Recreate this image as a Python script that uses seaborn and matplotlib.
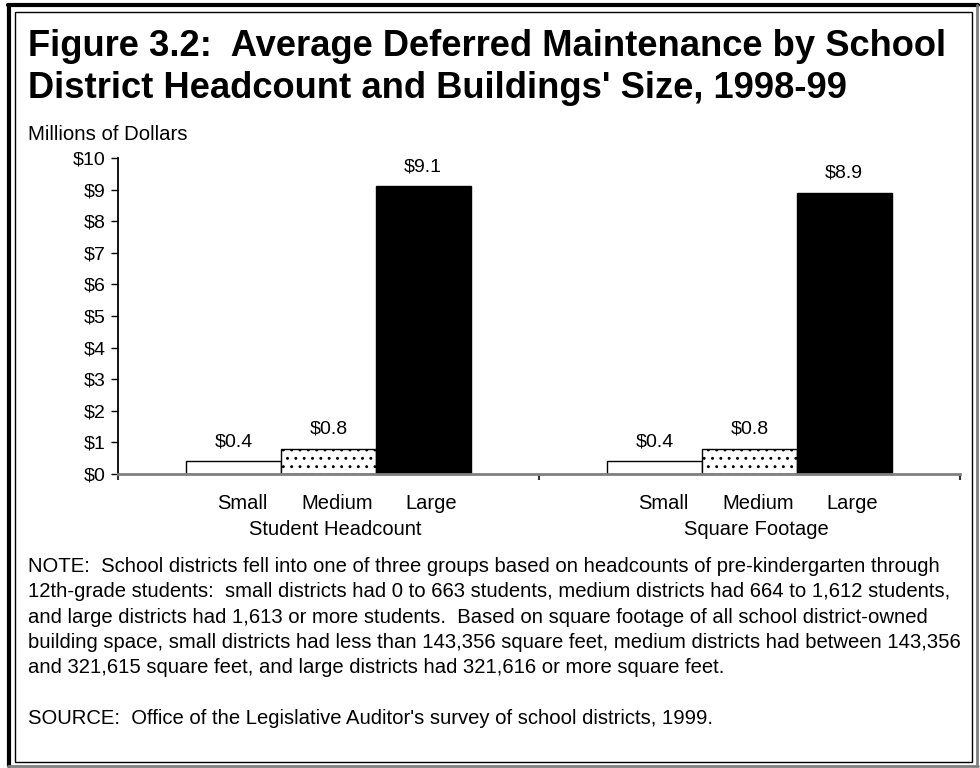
import pandas as pd
import matplotlib
matplotlib.use('Agg')
import matplotlib.pyplot as plt
import seaborn as sns
from matplotlib.patches import Rectangle
from matplotlib.lines import Line2D
from matplotlib.ticker import FuncFormatter, FixedLocator

# data
groups = ['Student Headcount', 'Square Footage']
sizes = ['Small', 'Medium', 'Large']
headcount_vals = [0.4, 0.8, 9.1]
footage_vals = [0.4, 0.8, 8.9]

df = pd.DataFrame({
    'group': [groups[0]] * 3 + [groups[1]] * 3,
    'size': sizes * 2,
    'value': headcount_vals + footage_vals,
})

sns.set_style('white')
plt.rcParams['font.family'] = ['Liberation Sans', 'DejaVu Sans']
plt.rcParams['hatch.linewidth'] = 0.9
plt.rcParams['text.color'] = 'black'
plt.rcParams['xtick.color'] = 'black'
plt.rcParams['ytick.color'] = 'black'
plt.rcParams['axes.labelcolor'] = 'black'

W, H = 980, 768
fig = plt.figure(figsize=(W / 100, H / 100), dpi=100)
ax = fig.add_axes([118 / W, 1 - 474 / H, (960 - 118) / W, (474 - 158) / H])

sns.barplot(data=df, x='group', y='value', hue='size', order=groups,
            hue_order=sizes, palette=['white', 'white', 'black'],
            edgecolor='black', linewidth=1, width=0.675, saturation=1,
            legend=False, ax=ax)

# dotted fill for medium bars
for p in ax.containers[1]:
    p.set_hatch('..')

ax.set_xlim(-0.5, 1.5)
ax.set_ylim(0, 10)
ax.set_yticks(range(0, 11))
ax.yaxis.set_major_formatter(FuncFormatter(lambda v, pos: f'${v:.0f}'))
ax.tick_params(axis='y', length=5, width=1, color='black', labelsize=14,
               pad=4, left=True, direction='out')
ax.set_xlabel('')
ax.set_ylabel('')
ax.set_xticks([])
ax.xaxis.set_minor_locator(FixedLocator([-0.5, 0.5, 1.5]))
ax.tick_params(axis='x', which='minor', length=4, width=1.5, color='#333333',
               bottom=True, direction='out')

for s in ['top', 'right']:
    ax.spines[s].set_visible(False)
ax.spines['left'].set_color('black')
ax.spines['left'].set_linewidth(1.3)
ax.spines['bottom'].set_color('#808080')
ax.spines['bottom'].set_linewidth(2)

# value labels
for c in ax.containers:
    ax.bar_label(c, labels=[f'${v:.1f}' for v in c.datavalues],
                 padding=8, fontsize=14)

# category labels under each bar, group labels under those
for c, name in zip(ax.containers, sizes):
    for p in c:
        ax.annotate(name, xy=(p.get_x() + p.get_width() / 2, 0),
                    xycoords=('data', 'axes fraction'), xytext=(6, -21),
                    textcoords='offset points', ha='center', va='center',
                    fontsize=14.5)
for i, g in enumerate(groups):
    ax.annotate(g, xy=(i, 0), xycoords=('data', 'axes fraction'),
                xytext=(5, -40), textcoords='offset points',
                ha='center', va='center', fontsize=14.5)

# titles and notes
fig.text(28 / W, 1 - 29 / H,
         "Figure 3.2:  Average Deferred Maintenance by School\n"
         "District Headcount and Buildings' Size, 1998-99",
         ha='left', va='top', fontsize=26.2, fontweight='bold', linespacing=1.25)
fig.text(28 / W, 1 - 135 / H, 'Millions of Dollars', ha='left', va='center',
         fontsize=14.7)

note = ("NOTE:  School districts fell into one of three groups based on headcounts of pre-kindergarten through\n"
        "12th-grade students:  small districts had 0 to 663 students, medium districts had 664 to 1,612 students,\n"
        "and large districts had 1,613 or more students.  Based on square footage of all school district-owned\n"
        "building space, small districts had less than 143,356 square feet, medium districts had between 143,356\n"
        "and 321,615 square feet, and large districts had 321,616 or more square feet.\n"
        "\n"
        "SOURCE:  Office of the Legislative Auditor's survey of school districts, 1999.")
fig.text(28 / W, 1 - 557 / H, note, ha='left', va='top', fontsize=14.6,
         linespacing=1.42)

# frame
fig.add_artist(Rectangle((15 / W, 1 - 762 / H), (972 - 15) / W, (762 - 12) / H,
                         transform=fig.transFigure, fill=False,
                         edgecolor='black', linewidth=1))
fig.add_artist(Line2D([9 / W, 9 / W], [1 - 766 / H, 1 - 5 / H],
                      transform=fig.transFigure, color='black', linewidth=3))
fig.add_artist(Line2D([8 / W, 978 / W], [1 - 5 / H, 1 - 5 / H],
                      transform=fig.transFigure, color='black', linewidth=3))
fig.add_artist(Line2D([977 / W, 977 / W], [1 - 766 / H, 1 - 5 / H],
                      transform=fig.transFigure, color='#808080', linewidth=2))
fig.add_artist(Line2D([8 / W, 978 / W], [1 - 766 / H, 1 - 766 / H],
                      transform=fig.transFigure, color='#808080', linewidth=2))

fig.savefig('out.png', dpi=100)
